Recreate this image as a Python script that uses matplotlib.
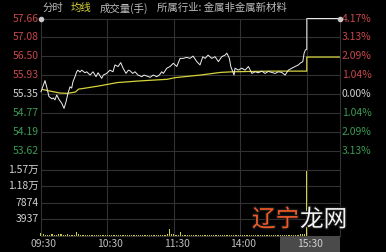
import matplotlib
matplotlib.use("Agg")
import matplotlib.pyplot as plt
import matplotlib.patheffects as pe
import matplotlib.transforms as mtrans
from matplotlib.patches import Rectangle

plt.rcParams["font.family"] = ["Noto Sans CJK SC", "DejaVu Sans"]

# ── Data ─────────────────────────────────────────
PREV_CLOSE = 55.35
PRICE_TICKS = [57.66, 57.08, 56.50, 55.93, 55.35, 54.77, 54.19, 53.62]
PRICE_LABELS = ["57.66", "57.08", "56.50", "55.93", "55.35", "54.77", "54.19", "53.62"]
PCT_LABELS = ["4.17%", "3.13%", "2.09%", "1.04%", "0.00%", "1.04%", "2.09%", "3.13%"]
PRICE_LOW = 53.04

# minutes since 09:30 (lunch removed, 240 = 15:00, 270 = 15:30)
PRICE_MIN = [0, 3.6, 5.1, 7.2, 9.9, 11.1, 12.6, 14.2, 16.5, 18.7, 20.8, 22.6, 24.4,
             26.2, 27.7, 28.9, 30.7, 32.2, 33.4, 35.2, 36.8, 39.7, 41.3, 44.3, 47.0,
             49.7, 51.5, 54.8, 56.3, 59.3, 62.3, 65.0, 66.8, 69.6, 72.0, 74.1, 76.8,
             78.9, 80.4, 82.8, 84.9, 87.6, 91.0, 93.0, 95.5, 98.5, 101.4, 104.5, 106.9,
             109.0, 110.5, 113.6, 116.5, 119.5, 122.6, 125.6, 128.3, 131.6, 134.6,
             137.3, 140.7, 143.6, 146.1, 148.2, 150.9, 154.2, 157.2, 160.2, 163.2,
             166.2, 167.8, 170.1, 171.4, 173.2, 174.3, 175.2, 178.2, 181.3, 184.3,
             187.3, 190.4, 193.3, 196.3, 199.4, 202.3, 205.3, 208.4, 211.4, 214.4,
             217.4, 220.4, 223.4, 226.5, 229.4, 232.4, 234.0, 236.4, 237.6, 238.8,
             240.0, 240.0, 270.0]
PRICE = [55.42, 55.76, 55.57, 55.27, 55.20, 55.23, 55.17, 55.32, 55.17, 55.07, 54.91,
         55.11, 55.38, 55.57, 55.53, 55.73, 55.88, 56.03, 56.08, 56.02, 56.08, 56.00,
         56.03, 55.93, 56.03, 55.88, 56.00, 55.83, 55.93, 55.98, 56.08, 56.03, 56.24,
         56.19, 56.31, 56.14, 55.98, 56.08, 56.06, 55.98, 56.03, 55.93, 55.88, 55.93,
         55.90, 55.86, 55.93, 55.88, 55.93, 56.03, 55.98, 56.14, 56.19, 56.29, 56.19,
         56.44, 56.44, 56.47, 56.44, 56.51, 56.34, 56.24, 56.49, 56.44, 56.54, 56.44,
         56.49, 56.34, 56.49, 56.54, 56.60, 56.44, 56.19, 56.03, 55.93, 56.14, 56.08,
         56.14, 56.08, 56.19, 55.98, 56.03, 56.00, 56.05, 55.98, 56.04, 56.01, 55.98,
         56.03, 56.01, 55.93, 56.08, 56.14, 56.19, 56.24, 56.29, 56.34, 56.60, 56.70,
         56.72, 57.66, 57.66]

AVG_MIN = [0, 8, 17, 24, 31, 34, 40, 53, 69, 89, 114, 121, 144, 162, 173, 207, 238.5,
           240, 240, 270]
AVG = [55.50, 55.44, 55.38, 55.37, 55.41, 55.50, 55.53, 55.60, 55.70, 55.75, 55.80,
       55.85, 55.93, 56.01, 56.03, 56.05, 56.05, 56.05, 56.48, 56.48]

VOL_TICKS = [15748, 11811, 7874, 3937]
VOL_LABELS = ["1.57万", "1.18万", "7874", "3937"]
VOL_MIN = list(range(0, 240, 2)) + [240]
VOLUME = [620, 480, 350, 300, 280, 420, 260, 310, 520, 380, 330, 290, 360, 270, 240, 300, 950, 410, 320, 280,
          260, 230, 310, 250, 220, 270, 240, 330, 260, 210, 250, 280, 230, 200, 260, 240, 220, 290, 250, 230,
          210, 240, 200, 260, 230, 190, 220, 250, 210, 280, 240, 230, 200, 220, 250, 270, 310, 360, 1650, 420,
          380, 300, 260, 900, 340, 280, 250, 230, 300, 260, 240, 220, 270, 250, 230, 210, 240, 260, 220, 200,
          230, 250, 210, 240, 280, 260, 230, 210, 250, 220, 200, 240, 230, 260, 210, 220, 250, 230, 270, 240,
          220, 260, 240, 230, 210, 250, 280, 260, 240, 300, 270, 250, 290, 310, 280, 330, 300, 360, 420, 520,
          15748]

TIME_TICKS = [0, 60, 120, 180]
TIME_LABELS = ["09:30", "10:30", "11:30", "14:00"]
CURSOR_LABEL = "15:30"

# ── Colours ──────────────────────────────────────
BG = "#000000"
GRID = "#323232"
RED = "#c8474a"
GREEN = "#3a9a52"
NEUTRAL = "#d2d2d2"
YELLOW = "#d6d33a"
GREYTXT = "#bdbdbd"

W, H = 386, 252
fig = plt.figure(figsize=(W / 100, H / 100), dpi=100)
fig.patch.set_facecolor(BG)

ax = fig.add_axes([41 / W, 82.5 / H, 299 / W, 151 / H])
axv = fig.add_axes([41 / W, 16 / H, 299 / W, 66.5 / H])

for a in (ax, axv):
    a.set_facecolor(BG)
    a.set_xlim(0, 270)
    a.set_xticks([])
    a.set_yticks([])
    for s in a.spines.values():
        s.set_color(GRID)
        s.set_linewidth(0.8)
    for m in TIME_TICKS[1:] + [240]:
        a.axvline(m, color=GRID, lw=0.8, zorder=0)

# ── Price panel ──────────────────────────────────
ax.set_ylim(PRICE_LOW, PRICE_TICKS[0])
for p in PRICE_TICKS[1:]:
    ax.axhline(p, color=GRID, lw=0.8, zorder=0)

ax.plot(AVG_MIN, AVG, color=YELLOW, lw=0.9, zorder=2)
ax.plot(PRICE_MIN, PRICE, color="#f0f0f0", lw=0.7, zorder=3, clip_on=False)
ax.plot([0, 270], [PRICE_TICKS[0]] * 2, "o", ms=3, color="#c8c8c8",
        clip_on=False, zorder=4)

tr = mtrans.blended_transform_factory(ax.transAxes, ax.transData)
for p, lab, pct in zip(PRICE_TICKS, PRICE_LABELS, PCT_LABELS):
    if p > PREV_CLOSE + 0.01:
        c = RED
    elif p < PREV_CLOSE - 0.01:
        c = GREEN
    else:
        c = NEUTRAL
    ax.text(-0.008, p, lab, transform=tr, ha="right", va="center",
            fontsize=7.5, color=c, clip_on=False)
    ax.text(1.006, p, pct, transform=tr, ha="left", va="center",
            fontsize=7.5, color=c, clip_on=False)

# ── Volume panel ─────────────────────────────────
axv.set_ylim(0, VOL_TICKS[0])
for v in VOL_TICKS[1:]:
    axv.axhline(v, color=GRID, lw=0.8, zorder=0)
axv.bar(VOL_MIN, VOLUME, width=1.1, color=YELLOW, lw=0, zorder=2, clip_on=False)

trv = mtrans.blended_transform_factory(axv.transAxes, axv.transData)
for v, lab in zip(VOL_TICKS, VOL_LABELS):
    axv.text(-0.008, v, lab, transform=trv, ha="right", va="center",
             fontsize=7.5, color=NEUTRAL, clip_on=False)

# time labels
trx = mtrans.blended_transform_factory(axv.transData, fig.transFigure)
for m, lab in zip(TIME_TICKS, TIME_LABELS):
    axv.text(m + 2.5, 8 / H, lab, transform=trx, ha="center", va="center",
             fontsize=7.5, color=GREYTXT, clip_on=False)

fig.patches.append(Rectangle((280 / W, 0), 60 / W, 16 / H, transform=fig.transFigure,
                             facecolor="#4a4a4a", edgecolor="none"))
fig.text(310 / W, 8 / H, CURSOR_LABEL, ha="center", va="center",
         fontsize=7.5, color="#d0d0d0")

# ── Header ───────────────────────────────────────
hy = 1 - 8 / H
fig.text(43 / W, hy, "分时", fontsize=7.5, color=GREYTXT, va="center")
fig.text(71 / W, hy, "均线", fontsize=7.5, color=YELLOW, va="center")
fig.text(100 / W, hy, "成交量(手)", fontsize=7.5, color=GREYTXT, va="center")
fig.text(157 / W, hy, "所属行业: 金属非金属新材料", fontsize=7.5, color=GREYTXT, va="center")

# ── Watermark ────────────────────────────────────
stroke = [pe.withStroke(linewidth=2, foreground="#151515")]
fig.text(252 / W, 32 / H, "辽宁", fontsize=17, color="#f05a28", va="center",
         path_effects=stroke)
fig.text(300 / W, 32 / H, "龙网", fontsize=17, color="#f4f4f4", va="center",
         path_effects=stroke)

fig.savefig("out.png", dpi=100, facecolor=BG)
